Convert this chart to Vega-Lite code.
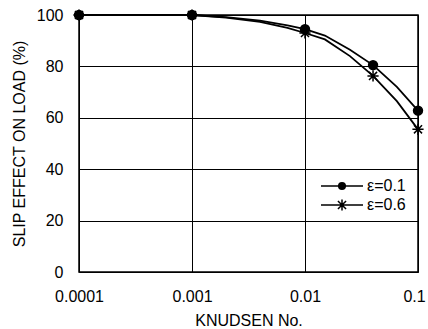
{
  "$schema": "https://vega.github.io/schema/vega-lite/v6.json",
  "width": 339,
  "height": 257,
  "autosize": "none",
  "padding": {"left": 79, "top": 15, "right": 10, "bottom": 57},
  "background": "white",
  "config": {
    "font": "Liberation Sans",
    "view": {"stroke": "black", "strokeWidth": 1.5},
    "axis": {"labelColor": "black", "titleColor": "black", "labelFontSize": 16, "titleFontSize": 16, "titleFontWeight": "normal", "gridColor": "black", "gridOpacity": 1, "gridWidth": 1, "ticks": false, "domain": false}
  },
  "datasets": {
    "curve": [
      {"kn": 0.0001, "load": 100, "eps": "ε=0.1"},
      {"kn": 0.001, "load": 100, "eps": "ε=0.1"},
      {"kn": 0.002, "load": 99.2, "eps": "ε=0.1"},
      {"kn": 0.004, "load": 97.8, "eps": "ε=0.1"},
      {"kn": 0.007, "load": 96.0, "eps": "ε=0.1"},
      {"kn": 0.01, "load": 94.5, "eps": "ε=0.1"},
      {"kn": 0.015, "load": 92.0, "eps": "ε=0.1"},
      {"kn": 0.025, "load": 86.5, "eps": "ε=0.1"},
      {"kn": 0.04, "load": 80.5, "eps": "ε=0.1"},
      {"kn": 0.065, "load": 72.0, "eps": "ε=0.1"},
      {"kn": 0.1, "load": 62.8, "eps": "ε=0.1"},
      {"kn": 0.0001, "load": 100, "eps": "ε=0.6"},
      {"kn": 0.001, "load": 100, "eps": "ε=0.6"},
      {"kn": 0.002, "load": 99.0, "eps": "ε=0.6"},
      {"kn": 0.004, "load": 97.3, "eps": "ε=0.6"},
      {"kn": 0.007, "load": 95.0, "eps": "ε=0.6"},
      {"kn": 0.01, "load": 93.0, "eps": "ε=0.6"},
      {"kn": 0.015, "load": 90.5, "eps": "ε=0.6"},
      {"kn": 0.025, "load": 84.0, "eps": "ε=0.6"},
      {"kn": 0.04, "load": 76.3, "eps": "ε=0.6"},
      {"kn": 0.065, "load": 66.5, "eps": "ε=0.6"},
      {"kn": 0.1, "load": 55.5, "eps": "ε=0.6"}
    ],
    "markers": [
      {"kn": 0.0001, "load": 100, "eps": "ε=0.1"},
      {"kn": 0.001, "load": 100, "eps": "ε=0.1"},
      {"kn": 0.01, "load": 94.5, "eps": "ε=0.1"},
      {"kn": 0.04, "load": 80.5, "eps": "ε=0.1"},
      {"kn": 0.1, "load": 62.8, "eps": "ε=0.1"},
      {"kn": 0.0001, "load": 100, "eps": "ε=0.6"},
      {"kn": 0.001, "load": 100, "eps": "ε=0.6"},
      {"kn": 0.01, "load": 93.0, "eps": "ε=0.6"},
      {"kn": 0.04, "load": 76.3, "eps": "ε=0.6"},
      {"kn": 0.1, "load": 55.5, "eps": "ε=0.6"}
    ]
  },
  "resolve": {"scale": {"shape": "independent"}, "legend": {"shape": "independent"}},
  "layer": [
    {
      "data": {"name": "curve"},
      "mark": {"type": "line", "color": "black", "strokeWidth": 1.8},
      "encoding": {
        "x": {"field": "kn", "type": "quantitative", "scale": {"type": "log", "domain": [0.0001, 0.1]},
              "axis": {"values": [0.0001, 0.001, 0.01, 0.1], "format": ".4~f", "labelPadding": 16, "title": "KNUDSEN No.", "titlePadding": 8, "labelFlush": false,
                       "labelOffset": {"expr": "datum.value >= 0.1 ? -4 : 0"}}},
        "y": {"field": "load", "type": "quantitative", "scale": {"domain": [0, 100]},
              "axis": {"values": [0, 20, 40, 60, 80, 100], "labelPadding": 16, "title": "SLIP EFFECT ON LOAD (%)", "titlePadding": 9}},
        "detail": {"field": "eps"}
      }
    },
    {
      "data": {"name": "markers"},
      "mark": {"type": "point", "filled": true, "fill": "black", "stroke": "black", "strokeWidth": 1.5, "opacity": 1},
      "encoding": {
        "x": {"field": "kn", "type": "quantitative"},
        "y": {"field": "load", "type": "quantitative"},
        "shape": {"field": "eps", "type": "nominal",
                  "scale": {"domain": ["ε=0.1", "ε=0.6"], "range": ["circle", "M-1.25,0L1.25,0M0,-1.25L0,1.25M-0.9,-0.9L0.9,0.9M-0.9,0.9L0.9,-0.9"]},
                  "legend": null},
        "size": {"value": 80}
      }
    },
    {
      "data": {"name": "markers"},
      "transform": [{"filter": "datum.kn < 0"}],
      "mark": {"type": "point", "filled": false, "color": "black", "strokeWidth": 1.5, "opacity": 1},
      "encoding": {
        "x": {"field": "kn", "type": "quantitative"},
        "y": {"field": "load", "type": "quantitative"},
        "shape": {"field": "eps", "type": "nominal",
                  "scale": {"domain": ["ε=0.1", "ε=0.6"], "range": [
                    "M0,0L6,0M3,-0.12A0.12,0.12,0,1,1,3,0.12A0.12,0.12,0,1,1,3,-0.12M3,-0.3A0.3,0.3,0,1,1,3,0.3A0.3,0.3,0,1,1,3,-0.3M3,-0.47A0.47,0.47,0,1,1,3,0.47A0.47,0.47,0,1,1,3,-0.47",
                    "M0,0L6,0M3,-0.8L3,0.8M2.42,-0.58L3.58,0.58M2.42,0.58L3.58,-0.58"]},
                  "legend": {"title": null, "orient": "none", "legendX": 234, "legendY": 163, "padding": 0,
                             "symbolSize": 196, "symbolStrokeColor": "black", "symbolStrokeWidth": 1.5, "symbolOpacity": 1,
                             "labelFontSize": 16, "labelColor": "black", "labelOffset": 38, "rowPadding": 2}}
      }
    }
  ]
}
